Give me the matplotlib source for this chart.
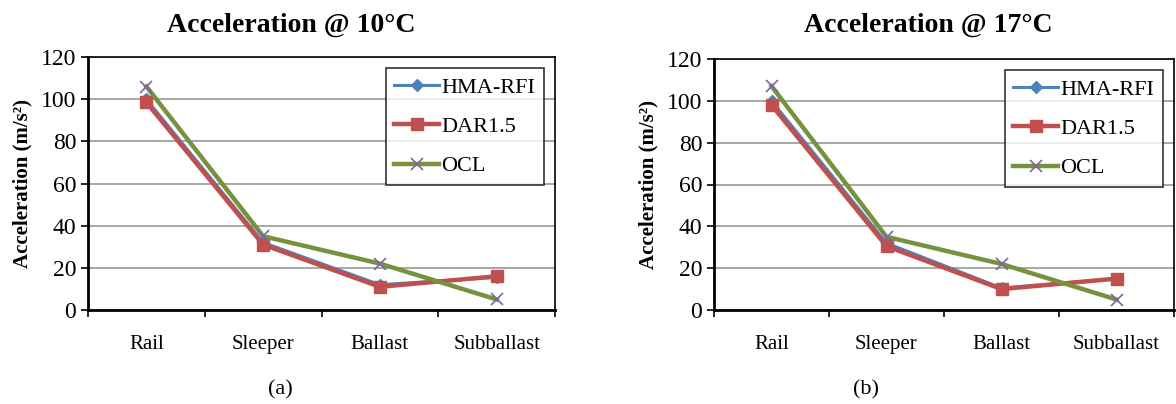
import matplotlib
matplotlib.use("Agg")
import matplotlib.pyplot as plt

plt.rcParams['font.family'] = ['Liberation Serif', 'DejaVu Serif']

layers = ['Rail', 'Sleeper', 'Ballast', 'Subballast']

# Acceleration @ 10°C
hma_10 = [100, 32, 12, 15.5]
dar_10 = [98.5, 31, 11, 16]
ocl_10 = [106, 35, 22, 5]

# Acceleration @ 17°C
hma_17 = [100, 32, 10.5, 15]
dar_17 = [98, 30.5, 10, 15]
ocl_17 = [107, 35, 22, 5]

panels = [
    ('Acceleration @ 10\u00b0C', '(a)', hma_10, dar_10, ocl_10),
    ('Acceleration @ 17\u00b0C', '(b)', hma_17, dar_17, ocl_17),
]

fig = plt.figure(figsize=(11.76, 4.04), dpi=100)
rects = [[88/1176, 1 - 310/404, 467/1176, 253/404],
         [714/1176, 1 - 310/404, 460/1176, 251/404]]
caption_x = [280/1176, 866/1176]
title_x = [291/1176, 928/1176]

for rect, cx, tx, (title, tag, hma, dar, ocl) in zip(rects, caption_x, title_x, panels):
    ax = fig.add_axes(rect)
    x = [i + 0.5 for i in range(len(layers))]
    ax.plot(x, hma, color='#4F81BD', lw=2.2, marker='D', ms=6, label='HMA-RFI')
    ax.plot(x, dar, color='#C0504D', lw=3.2, marker='s', ms=9, label='DAR1.5')
    ax.plot(x, ocl, color='#76923C', lw=3.2, marker='x', ms=9,
            mec='#8064A2', mew=1.2, label='OCL')
    ax.set_xlim(0, 4)
    ax.set_ylim(0, 120)
    ax.set_yticks(range(0, 121, 20))
    ax.set_xticks(range(5))
    ax.set_xticklabels([])
    ax.set_xticks(x, minor=True)
    ax.set_xticklabels(layers, minor=True, fontsize=15)
    ax.tick_params(axis='x', which='minor', length=0, pad=18)
    ax.tick_params(axis='x', which='major', length=5, direction='out', width=1.2)
    ax.tick_params(axis='y', length=5, direction='out', labelsize=17, width=1.2)
    ax.grid(axis='y', color='#A0A0A0', lw=1.3)
    ax.set_axisbelow(True)
    for s in ax.spines.values():
        s.set_color('black')
        s.set_linewidth(1.2)
    ax.spines['left'].set_linewidth(2)
    ax.spines['bottom'].set_linewidth(2)
    ax.set_ylabel('Acceleration (m/s\u00b2)', fontsize=15, fontweight='bold', labelpad=6)
    fig.text(tx, 1 - 25/404, title, ha='center', va='center',
             fontsize=20, fontweight='bold')
    leg = ax.legend(loc='upper right', fontsize=16, frameon=True, fancybox=False,
                    edgecolor='black', handlelength=2.0, handletextpad=0.1,
                    borderaxespad=0.5, labelspacing=0.85, borderpad=0.4)
    leg.get_frame().set_linewidth(1.2)
    fig.text(cx, 1 - 390/404, tag, ha='center', va='center', fontsize=16)

fig.savefig('out.png', dpi=100)
